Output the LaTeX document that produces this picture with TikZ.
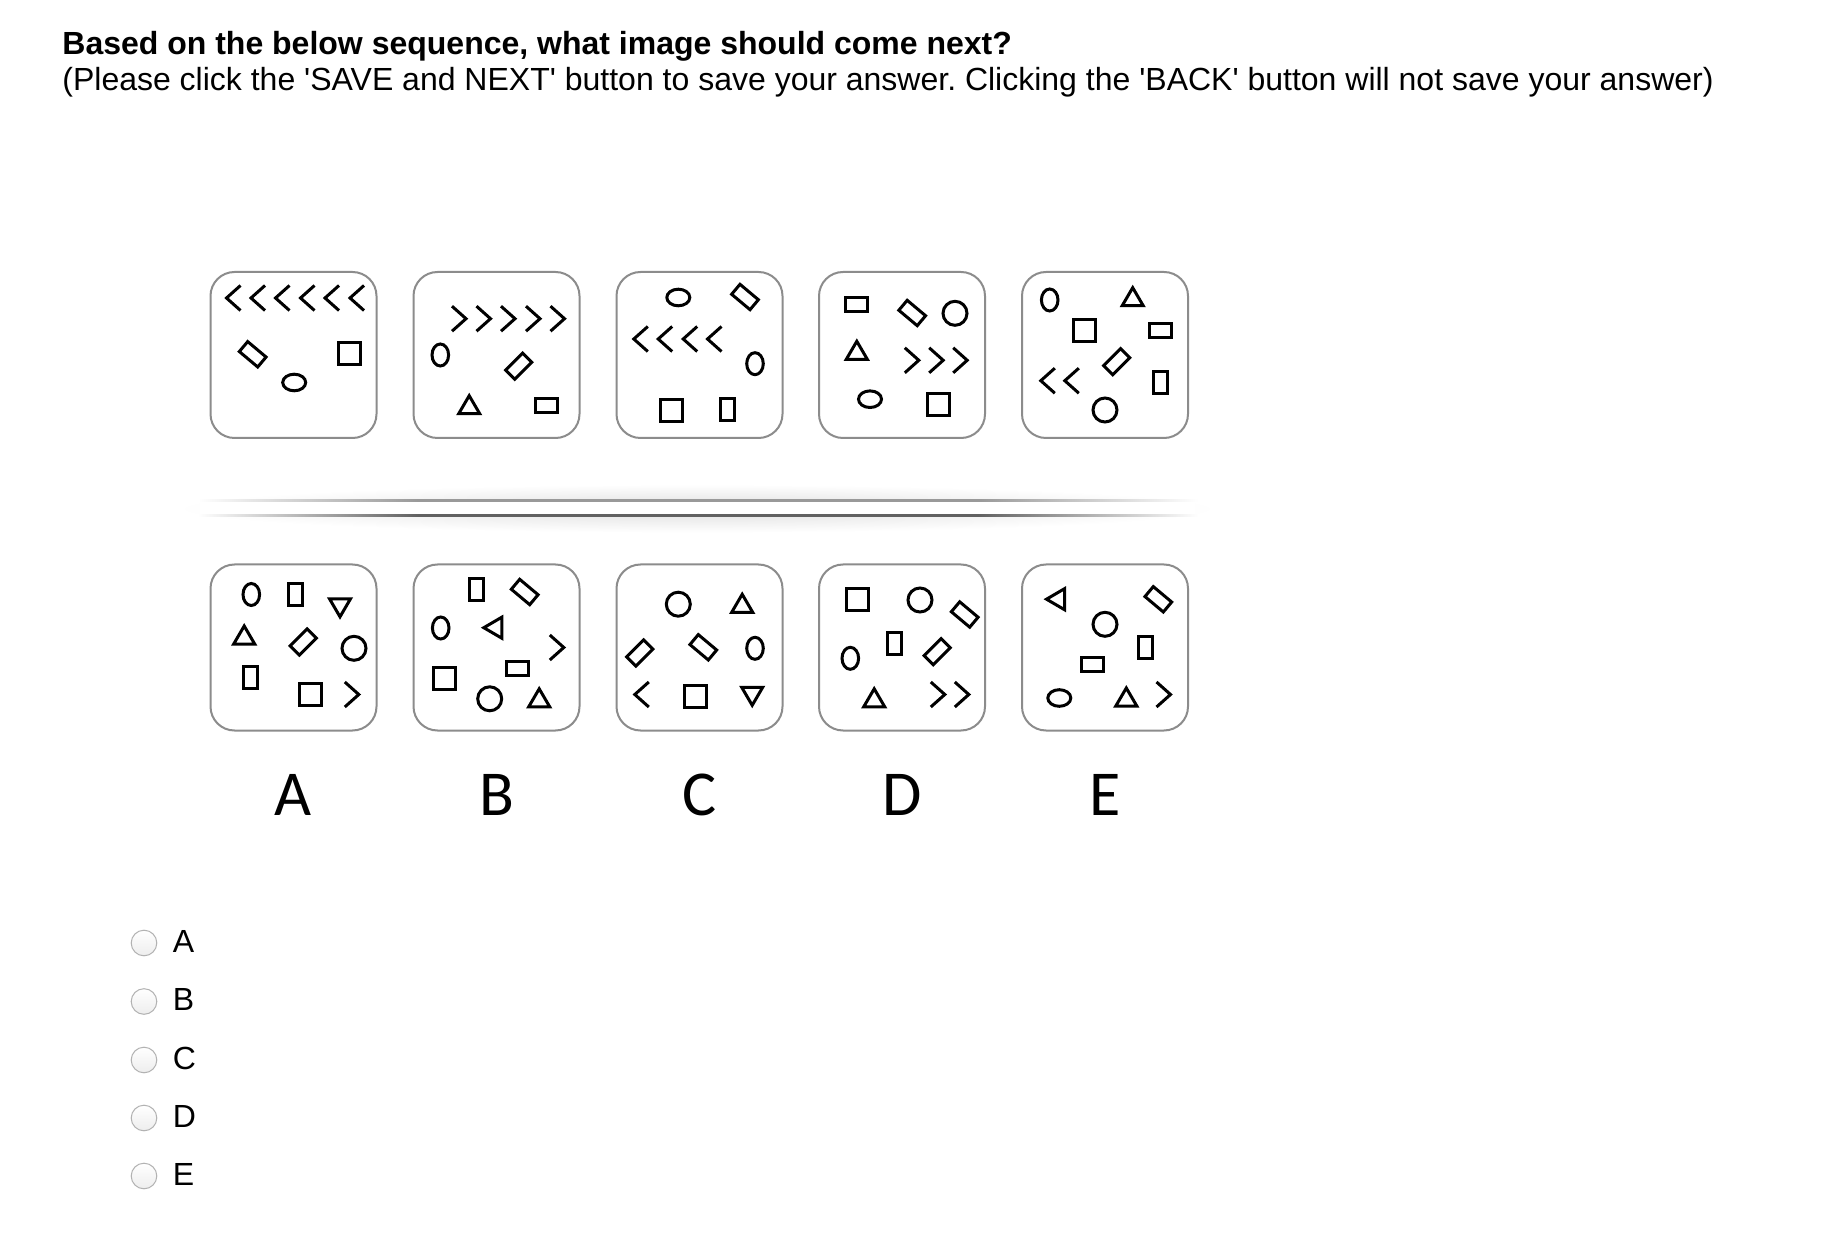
\documentclass[tikz,border=0pt]{standalone}
\usepackage{fontspec}
\setmainfont{Liberation Sans}[Ligatures=TeXOff]
\newfontfamily\boxletter{Carlito}
\pgfdeclarehorizontalshading{fadelight}{100bp}{color(0bp)=(white); color(25bp)=(white); color(36bp)=(black!40); color(64bp)=(black!40); color(75bp)=(white); color(100bp)=(white)}
\pgfdeclarehorizontalshading{fadedark}{100bp}{color(0bp)=(white); color(25bp)=(white); color(36bp)=(black!62); color(64bp)=(black!62); color(75bp)=(white); color(100bp)=(white)}
\tikzset{
  shp/.style={draw=black, line width=1.5pt, line join=miter},
  frame/.style={draw=black!45, line width=1pt, rounded corners=12pt, minimum width=83pt, minimum height=83pt, inner sep=0pt, fill=white},
  radio/.style={circle, draw=black!30, line width=0.5pt, minimum size=12.8pt, inner sep=0pt, top color=white, bottom color=black!7},
  qtext/.style={anchor=base west, inner sep=0pt, font=\fontsize{16}{19}\selectfont},
  optlabel/.style={anchor=base west, inner sep=0pt, font=\fontsize{16}{19}\selectfont},
  boxlabel/.style={anchor=base, inner sep=0pt, font=\boxletter\fontsize{32}{38}\selectfont}
}
\newcommand\shSq[2]{\draw[shp] ({#1-11},{#2-11}) rectangle ({#1+11},{#2+11});}
\newcommand\shRh[2]{\draw[shp] ({#1-11},{#2-7}) rectangle ({#1+11},{#2+7});}
\newcommand\shRv[2]{\draw[shp] ({#1-7},{#2-11}) rectangle ({#1+7},{#2+11});}
\newcommand\shCi[2]{\draw[shp] (#1,#2) circle [radius=12];}
\newcommand\shEh[2]{\draw[shp] (#1,#2) ellipse [x radius=11.5, y radius=8.3];}
\newcommand\shEv[2]{\draw[shp] (#1,#2) ellipse [x radius=8.3, y radius=11];}
\newcommand\shTU[2]{\draw[shp] ({#1-10.5},{#2+9}) -- (#1,{#2-9}) -- ({#1+10.5},{#2+9}) -- cycle;}
\newcommand\shTD[2]{\draw[shp] ({#1-10.5},{#2-9}) -- (#1,{#2+9}) -- ({#1+10.5},{#2-9}) -- cycle;}
\newcommand\shTL[2]{\draw[shp] ({#1-9},#2) -- ({#1+9},{#2-10.5}) -- ({#1+9},{#2+10.5}) -- cycle;}
\newcommand\shCL[2]{\draw[shp] ({#1+14},{#2-12.5}) -- (#1,#2) -- ({#1+14},{#2+12.5});}
\newcommand\shCR[2]{\draw[shp] (#1,{#2-12.5}) -- ({#1+14},#2) -- (#1,{#2+12.5});}
\newcommand\shDm[3]{\draw[shp,shift={(#1,#2)},rotate=#3] (-12,-6.5) rectangle (12,6.5);}
\begin{document}
\frenchspacing
\begin{tikzpicture}[x=0.5pt,y=-0.5pt]
\useasboundingbox (0,0) rectangle (1824,1234);
\fill[white] (0,0) rectangle (1824,1234);

% question text
\node[qtext, font=\bfseries\fontsize{16}{19}\selectfont] (title) at (62,54.5) {Based on the below sequence, what image should come next?};
\node[qtext] (instr) at (62,91) {(Please click the 'SAVE and NEXT' button to save your answer. Clicking the 'BACK' button will not save your answer)};

% frames
\node[frame] (s1) at (293.5,355) {};
\node[frame] (s2) at (496.5,355) {};
\node[frame] (s3) at (699.5,355) {};
\node[frame] (s4) at (902,355) {};
\node[frame] (s5) at (1105,355) {};
\node[frame] (cA) at (293.5,647.5) {};
\node[frame] (cB) at (496.5,647.5) {};
\node[frame] (cC) at (699.5,647.5) {};
\node[frame] (cD) at (902,647.5) {};
\node[frame] (cE) at (1105,647.5) {};

% separator
\shade[inner color=black!13, outer color=white] (697,508.5) ellipse [x radius=520, y radius=24];
\fill[white] (200,502.5) rectangle (1195,514.5);
\shade[shading=fadelight] (198,500) rectangle (1198,502);
\shade[shading=fadedark] (198,515) rectangle (1198,517);

% sequence box 1
\foreach \t in {226.5,251,275.5,300.5,325,350} {\shCL{\t}{298}}
\shDm{252.7}{354.3}{-40}
\shSq{349.8}{353.8}
\shEh{294.2}{382.5}
% box 2
\foreach \t in {452,476.5,501,526,550.5} {\shCR{\t}{318.7}}
\shEv{440.3}{355}
\shDm{518.7}{366.2}{45}
\shTU{469.2}{404.7}
\shRh{546.8}{405.3}
% box 3
\shEh{678.3}{297.5}
\shDm{745}{297}{-40}
\foreach \t in {633.8,658.2,683.2,707.5} {\shCL{\t}{339}}
\shEv{755}{363.7}
\shSq{671.2}{410.5}
\shRv{727}{410}
% box 4
\shRh{856.7}{304.2}
\shDm{912.2}{313}{-40}
\shCi{955}{313.3}
\shTU{856.8}{350.3}
\foreach \t in {904.8,929.2,953.2} {\shCR{\t}{360.3}}
\shEh{870}{399.2}
\shSq{938}{405}
% box 5
\shEv{1049.7}{300}
\shTU{1132.7}{296.7}
\shSq{1084.2}{330.3}
\shRh{1160.5}{330.5}
\shDm{1116.7}{361.7}{45}
\foreach \t in {1040.8,1064.8} {\shCL{\t}{380.7}}
\shRv{1160}{382.2}
\shCi{1105}{410}

% choice A
\shEv{251.3}{594.5}
\shRv{295}{594.5}
\shTD{340}{607.8}
\shTU{244.2}{635}
\shDm{303.3}{642}{45}
\shCi{354}{648.3}
\shRv{250.5}{677.5}
\shSq{310.5}{694.5}
\shCR{344.8}{694.5}
% choice B
\shRv{476.7}{589.7}
\shDm{524.7}{592}{-40}
\shEv{440.7}{628}
\shTL{492.8}{627.7}
\shCR{549.8}{647.5}
\shSq{444.5}{678.8}
\shRh{517.5}{668.7}
\shCi{489.7}{698.8}
\shTU{539.2}{697.8}
% choice C
\shCi{678.3}{604.2}
\shTU{742.2}{603.3}
\shDm{639.7}{653}{45}
\shDm{703.3}{647.3}{-40}
\shEv{755}{648.3}
\shCL{634.8}{694.5}
\shSq{695.5}{696.2}
\shTD{752.2}{696.3}
% choice D
\shSq{857.5}{600}
\shCi{920}{600}
\shDm{964.7}{614.5}{-40}
\shRv{894.7}{643.8}
\shEv{850.3}{658.3}
\shDm{937.2}{651.7}{45}
\shTU{874.2}{697.8}
\shCR{930.8}{694.5}
\shCR{954.8}{694.5}
% choice E
\shTL{1055.5}{599.2}
\shDm{1158.3}{599.3}{-40}
\shCi{1105}{624.3}
\shRv{1145.8}{647.5}
\shRh{1092.5}{664.2}
\shEh{1059.3}{698}
\shTU{1126.3}{697}
\shCR{1156.5}{694.5}

% letters under choices
\node[boxlabel] (lA) at (293.5,815) {A};
\node[boxlabel] (lB) at (496.5,815) {B};
\node[boxlabel] (lC) at (699.5,815) {C};
\node[boxlabel] (lD) at (902,815) {D};
\node[boxlabel] (lE) at (1105,815) {E};

% radio options
\foreach \L/\yy in {A/943,B/1001.5,C/1060,D/1118,E/1176} {
  \node[radio] (r\L) at (144,\yy) {};
  \node[optlabel] (o\L) at (172.5,\yy+9.3) {\L};
}
\end{tikzpicture}
\end{document}
